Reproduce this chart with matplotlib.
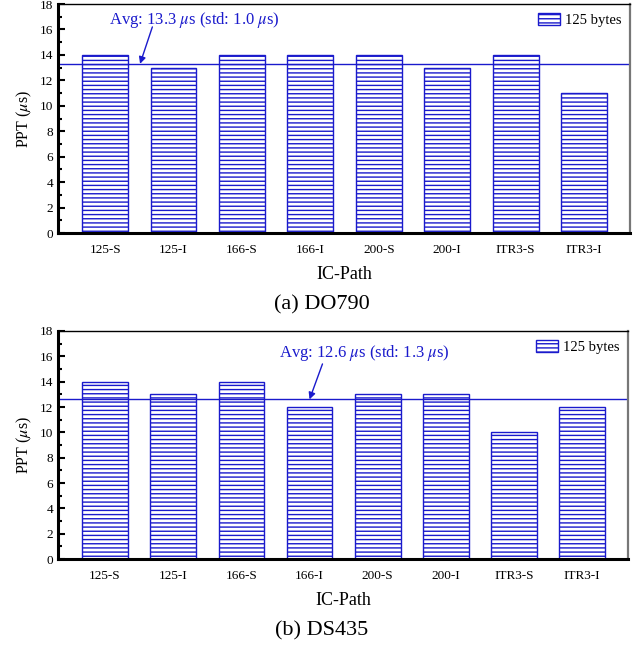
import numpy as np
import matplotlib
matplotlib.use('Agg')
import matplotlib.pyplot as plt

plt.rcParams['font.family'] = ['Liberation Serif', 'DejaVu Serif']
plt.rcParams['mathtext.fontset'] = 'stix'
plt.rcParams['hatch.color'] = '#1a1acc'
plt.rcParams['hatch.linewidth'] = 1.0

paths = ['125-S', '125-I', '166-S', '166-I', '200-S', '200-I', 'ITR3-S', 'ITR3-I']
ppt_do790 = [14, 13, 14, 14, 14, 13, 14, 11]
ppt_ds435 = [14, 13, 14, 12, 13, 13, 10, 12]
avg_do790, std_do790 = 13.3, 1.0
avg_ds435, std_ds435 = 12.6, 1.3

blue = '#1a1acc'


def draw_panel(ax, vals, avg, std, txt_xy, tail_xy, tip_x):
    x = np.arange(len(paths))
    ax.bar(x, vals, width=0.67, color='white', edgecolor=blue,
           linewidth=1.0, hatch='----', label='125 bytes')
    ax.axhline(avg, color=blue, linewidth=1.0)
    ax.annotate(r'Avg: %.1f $\mu$s (std: %.1f $\mu$s)' % (avg, std),
                xy=(tip_x, avg), xytext=txt_xy, textcoords='data',
                ha='center', va='center', color=blue, fontsize=12)
    ax.annotate('', xy=(tip_x, avg), xytext=tail_xy,
                arrowprops=dict(arrowstyle='-|>', color=blue, lw=1.0,
                                mutation_scale=10, shrinkA=0, shrinkB=0))
    ax.set_xlim(-0.69, 7.67)
    ax.set_ylim(0, 18)
    ax.set_yticks(np.arange(0, 19, 2))
    ax.set_yticks(np.arange(0, 19, 1), minor=True)
    ax.set_xticks(x)
    ax.set_xticklabels(paths, fontsize=9.5)
    ax.tick_params(axis='y', which='both', direction='in', right=False,
                   labelsize=9.5, width=1.5)
    ax.tick_params(axis='y', which='major', length=5)
    ax.tick_params(axis='y', which='minor', length=3)
    ax.tick_params(axis='x', length=0, pad=8)
    ax.set_xlabel('IC-Path', fontsize=13, labelpad=7)
    ax.set_ylabel(r'PPT ($\mu$s)', fontsize=11.5, labelpad=4)
    ax.spines['left'].set_linewidth(2.2)
    ax.spines['bottom'].set_linewidth(2.2)
    ax.spines['top'].set_linewidth(1.0)
    ax.spines['right'].set_linewidth(1.6)
    ax.spines['right'].set_color('#777777')
    ax.legend(loc='upper right', frameon=False, fontsize=10.5,
              handlelength=1.5, handleheight=0.9, handletextpad=0.3,
              borderaxespad=0.2)


fig = plt.figure(figsize=(6.44, 6.48), dpi=100)
ax1 = fig.add_axes([0.090, 0.6404, 0.888, 0.3534])
ax2 = fig.add_axes([0.090, 0.1373, 0.885, 0.3519])

draw_panel(ax1, ppt_do790, avg_do790, std_do790,
           txt_xy=(1.3, 16.75), tail_xy=(0.69, 16.2), tip_x=0.51)
draw_panel(ax2, ppt_ds435, avg_ds435, std_ds435,
           txt_xy=(3.8, 16.3), tail_xy=(3.19, 15.4), tip_x=3.0)

fig.text(0.5, 1 - 305 / 648, '(a) DO790', ha='center', va='center', fontsize=16)
fig.text(0.5, 1 - 631 / 648, '(b) DS435', ha='center', va='center', fontsize=16)

fig.savefig('out.png', dpi=100)
